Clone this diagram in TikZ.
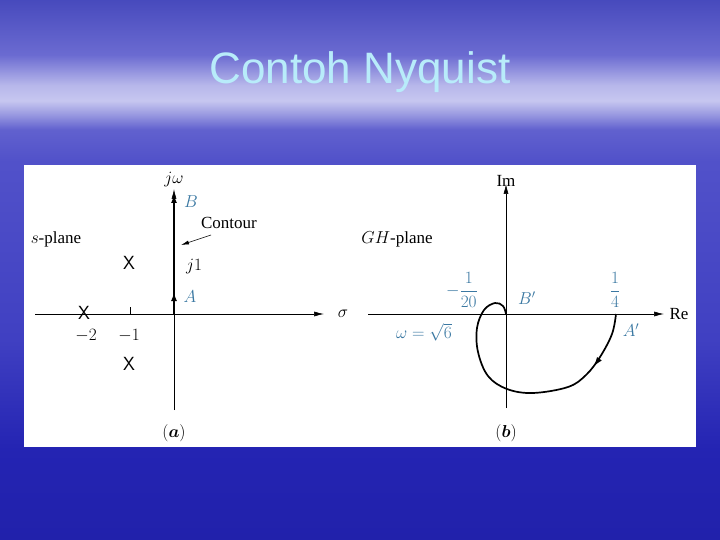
\documentclass[tikz,border=0pt]{standalone}
\usepackage{amsmath}
\usepackage{fontspec}
\setmainfont{Liberation Serif}
\newfontfamily\titlefont{Liberation Sans}
\usetikzlibrary{arrows.meta,decorations.markings,positioning,calc}
\definecolor{labblue}{RGB}{58,120,162}
\definecolor{titlecyan}{RGB}{184,236,250}
% sky: 25bp = bottom of slide, 75bp = top of slide
\pgfdeclareverticalshading{sky}{100bp}{rgb(0bp)=(.13,.13,.67); rgb(25bp)=(.13,.13,.67);
  rgb(33.3bp)=(.14,.14,.70); rgb(43.5bp)=(.25,.25,.76); rgb(60.2bp)=(.32,.32,.79);
  rgb(63bp)=(.38,.38,.81); rgb(64.4bp)=(.60,.60,.88); rgb(65.7bp)=(.78,.78,.94);
  rgb(67.1bp)=(.72,.72,.92); rgb(69.9bp)=(.42,.42,.82); rgb(75bp)=(.28,.29,.74);
  rgb(100bp)=(.28,.29,.74)}

\begin{document}
\begin{tikzpicture}[x=1pt,y=-1pt,
    axis/.style={line width=0.6pt,-{Latex[length=10pt,width=5pt]}},
    contourline/.style={line width=2.4pt,-{Latex[length=9pt,width=6pt]}},
    lab/.style={font=\fontsize{17}{19}\selectfont,inner sep=1pt},
    bluelab/.style={lab,text=labblue},
    pole/.style={font=\fontsize{19}{19}\selectfont\sffamily,inner sep=0pt},
    locus/.style={line width=1.7pt,postaction={decorate},
      decoration={markings,mark=at position 0.21 with {\arrow{Latex[length=10pt,width=6pt]}}}}]
  \useasboundingbox (0,0) rectangle (720,540);
  \shade[shading=sky] (0,0) rectangle (720,540);
  % title
  \node[font=\titlefont\fontsize{44}{48}\selectfont,text=titlecyan] (title) at (360,72) {Contoh Nyquist};
  \fill[white] (24,165) rectangle (696,447);

  % (a) s-plane
  \coordinate (O1) at (174,314);
  \coordinate (sigL) at (35,314);
  \coordinate (sigR) at (324,314);
  \coordinate (jwB) at (174,410);
  \coordinate (jwT) at (174,189);
  \coordinate (ptA) at (174,292);
  \coordinate (ptB) at (174,194);
  \draw[axis] (sigL) -- (sigR);
  \draw[axis] (jwB) -- (jwT);
  \draw[contourline] (O1) -- (ptB);
  \draw[contourline] (O1) -- (ptA);
  \draw[line width=0.6pt] (130,307) -- (130,314);
  \node[lab] (sigma) at (343,314) {$\sigma$};
  \node[lab] (jw) at (174,180) {$j\omega$};
  \node[bluelab] (labB) at (191,202) {$B$};
  \node[bluelab] (labA) at (190,297) {$A$};
  \node[lab] (j1) at (194,267) {$j1$};
  \node[lab] (contour) at (229,223) {Contour};
  \coordinate (cfoot) at (211,235);
  \coordinate (chead) at (181,245);
  \draw[line width=0.6pt,-{Latex[length=8pt,width=4pt]}] (cfoot) -- (chead);
  \node[lab] (splane) at (56,239) {$s$-plane};
  \node[pole] (p1) at (129,263) {X};
  \node[pole] (p2) at (84,313) {X};
  \node[pole] (p3) at (129,364) {X};
  \node[lab] (m2) at (86,336) {$-2$};
  \node[lab] (m1) at (129,336) {$-1$};
  \node[lab] (capa) at (174,433) {$(\boldsymbol{a})$};

  % (b) GH-plane
  \coordinate (O2) at (506,314);
  \coordinate (reL) at (368,314);
  \coordinate (reR) at (664,314);
  \coordinate (imB) at (506,408);
  \coordinate (imT) at (506,184);
  \draw[axis] (reL) -- (reR);
  \draw[axis] (imB) -- (imT);
  \node[lab] (re) at (679,314) {Re};
  \node[lab] (im) at (506,181) {Im};
  \node[lab] (ghplane) at (397,239) {$GH$-plane};
  \node[bluelab] (fr20) at (462,290) {$-\dfrac{1}{20}$};
  \node[bluelab] (fr4) at (615,290) {$\dfrac{1}{4}$};
  \node[bluelab] (labBp) at (527,298) {$B'$};
  \node[bluelab] (labAp) at (631,330) {$A'$};
  \node[bluelab] (wsix) at (424,332) {$\omega = \sqrt{6}$};
  \draw[locus] plot[smooth,tension=0.6] coordinates {(616,314) (612,334) (600,357)
    (586,375) (568,387) (533,393) (507,389) (488,376) (478,352) (477,328)
    (484,310) (495,303) (503,306) (506,314)};
  \node[lab] (capb) at (506,433) {$(\boldsymbol{b})$};
\end{tikzpicture}
\end{document}
